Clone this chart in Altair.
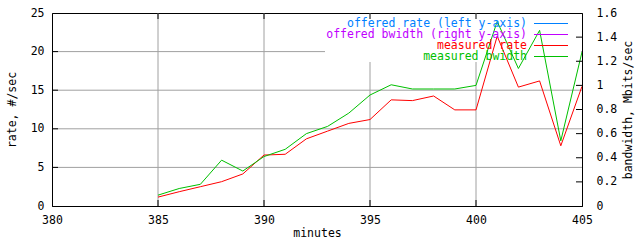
import altair as alt
import pandas as pd

# ---- data ----
minutes = list(range(385, 406))
measured_rate = [1.15, 1.85, 2.5, 3.15, 4.15, 6.6, 6.7, 8.7, 9.7, 10.7, 11.2,
                 13.75, 13.65, 14.25, 12.45, 12.45, 22.0, 15.4, 16.2, 7.8, 15.5]
measured_bw = [0.09, 0.145, 0.18, 0.38, 0.29, 0.41, 0.47, 0.60, 0.66, 0.77, 0.92,
               1.005, 0.97, 0.97, 0.97, 1.0, 1.53, 1.14, 1.456, 0.54, 1.277]

x_ticks = [380, 385, 390, 395, 400, 405]
x_grid = [385, 390, 395, 400]
left_ticks = [0, 5, 10, 15, 20, 25]
left_grid = [5, 10, 15, 20]
right_ticks = [0, 0.2, 0.4, 0.6, 0.8, 1.0, 1.2, 1.4, 1.6]
right_inner_ticks = [0.2, 0.4, 0.6, 0.8, 1.0, 1.2, 1.4]

legend_labels = ["offered rate (left y-axis)", "offered bwidth (right y-axis)",
                 "measured rate", "measured bwidth"]
legend_colors = ["#0080ff", "#c000ff", "#ff0000", "#00c000"]

W, H = 530, 193
FONT = "DejaVu Sans Mono"
FS = 11.5

df = pd.DataFrame({"minute": minutes, "rate": measured_rate, "bw": measured_bw})

xs = alt.Scale(domain=[380, 405], nice=False, zero=False)
ys_left = alt.Scale(domain=[0, 25], nice=False)
ys_right = alt.Scale(domain=[0, 1.6], nice=False)

x_axis = alt.Axis(values=x_ticks, format="d", grid=False, ticks=False, labelFlush=False,
                  labelPadding=8, title="minutes", titleX=W / 2, titleY=27,
                  titleBaseline="middle", titleAlign="center", zindex=1)
left_axis = alt.Axis(values=left_ticks, grid=False, ticks=False, labelFlush=False,
                     labelPadding=8, orient="left", title="rate, #/sec",
                     titleX=-40, titleY=H / 2, titleAngle=270, titleAlign="center",
                     titleBaseline="middle", zindex=1)
right_axis = alt.Axis(values=right_ticks, format=".1~f", grid=False, ticks=False,
                      labelFlush=False, labelPadding=14, orient="right",
                      title="bandwidth, Mbits/sec", titleX=46, titleY=H / 2,
                      titleAngle=270, titleAlign="center", titleBaseline="middle",
                      zindex=1)

one = pd.DataFrame({"k": [0]})

grid_x = alt.Chart(pd.DataFrame({"t": x_grid})).mark_rule(color="#a0a0a0", strokeWidth=1).encode(
    x=alt.X("t:Q", scale=xs, axis=x_axis), y=alt.value(0), y2=alt.value(H))
grid_y = alt.Chart(pd.DataFrame({"v": left_grid})).mark_rule(color="#a0a0a0", strokeWidth=1).encode(
    y=alt.Y("v:Q", scale=ys_left, axis=left_axis), x=alt.value(0), x2=alt.value(W))
left_tick_marks = alt.Chart(pd.DataFrame({"v": left_grid})).mark_rule(color="black", strokeWidth=1).encode(
    y=alt.Y("v:Q", scale=ys_left, axis=left_axis), x=alt.value(0), x2=alt.value(6))
legend_bg = alt.Chart(one).mark_rect(color="white").encode(
    x=alt.value(273), x2=alt.value(529), y=alt.value(1), y2=alt.value(49))
top_ticks = alt.Chart(pd.DataFrame({"t": x_grid})).mark_rule(color="black", strokeWidth=1).encode(
    x=alt.X("t:Q", scale=xs, axis=x_axis), y=alt.value(0), y2=alt.value(6))
bottom_ticks = alt.Chart(pd.DataFrame({"t": x_grid})).mark_rule(color="black", strokeWidth=1).encode(
    x=alt.X("t:Q", scale=xs, axis=x_axis), y=alt.value(H - 6), y2=alt.value(H))
red = alt.Chart(df).mark_line(color="#ff0000", strokeWidth=1).encode(
    x=alt.X("minute:Q", scale=xs, axis=x_axis),
    y=alt.Y("rate:Q", scale=ys_left, axis=left_axis))

left_group = alt.layer(grid_x, grid_y, legend_bg, left_tick_marks, top_ticks, bottom_ticks, red)

green = alt.Chart(df).mark_line(color="#00c000", strokeWidth=1).encode(
    x=alt.X("minute:Q", scale=xs, axis=x_axis),
    y=alt.Y("bw:Q", scale=ys_right, axis=right_axis))
right_tick_marks = alt.Chart(pd.DataFrame({"v": right_inner_ticks})).mark_rule(color="black", strokeWidth=1).encode(
    y=alt.Y("v:Q", scale=ys_right, axis=right_axis), x=alt.value(W - 6), x2=alt.value(W))
right_group = alt.layer(green, right_tick_marks)

legend_layers = []
for i, (lab, col) in enumerate(zip(legend_labels, legend_colors)):
    ry = 10.5 + 11 * i
    legend_layers.append(
        alt.Chart(pd.DataFrame({"label": [lab]})).mark_text(
            align="right", baseline="middle", font=FONT, fontSize=FS, color=col
        ).encode(text="label:N", x=alt.value(475), y=alt.value(ry)))
    legend_layers.append(
        alt.Chart(one).mark_rule(color=col, strokeWidth=1).encode(
            x=alt.value(482), x2=alt.value(516), y=alt.value(ry)))

chart = alt.layer(left_group, right_group, *legend_layers).resolve_scale(
    y="independent"
).properties(
    width=W, height=H,
    autosize=alt.AutoSizeParams(type="none"),
    padding={"left": 52, "top": 13, "right": 58, "bottom": 34},
    background="white",
).configure_view(stroke="black", strokeWidth=1).configure_axis(
    labelFont=FONT, labelFontSize=FS, labelColor="black",
    titleFont=FONT, titleFontSize=FS, titleFontWeight="normal", titleColor="black",
    domainColor="black", domainWidth=1,
)

chart.save("out.html", embed_options={"renderer": "svg", "actions": False})
